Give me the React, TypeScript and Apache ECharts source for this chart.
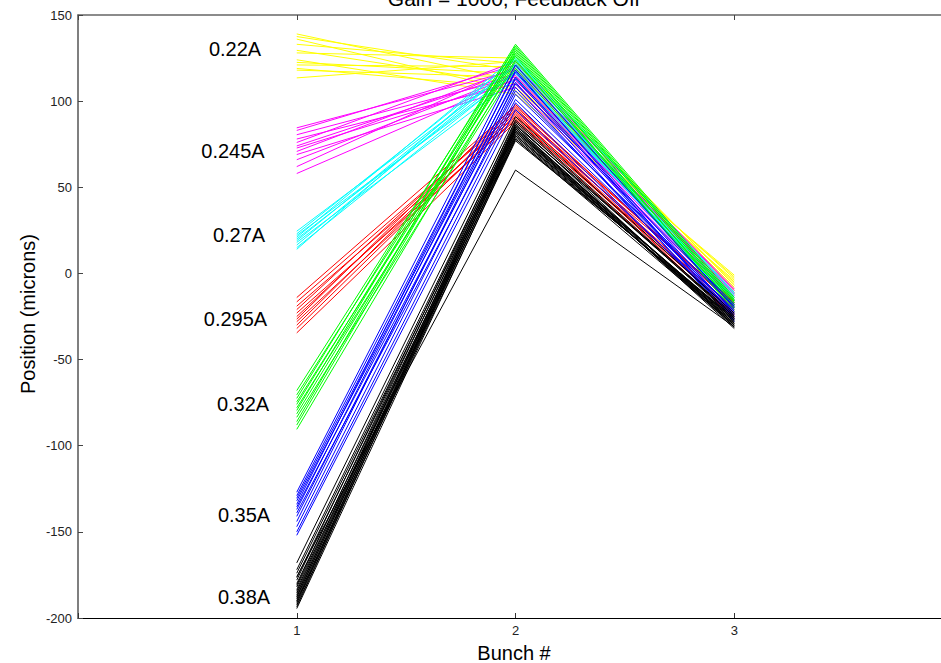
import React, { useEffect, useRef } from "react";
import * as echarts from "echarts";

// Bunch numbers on the x axis
const bunches = [1, 2, 3];
const xTicks = [1, 2, 3];
const yTicks = [-200, -150, -100, -50, 0, 50, 100, 150];

// Current labels and their colours
const currents = ["0.22A", "0.245A", "0.27A", "0.295A", "0.32A", "0.35A", "0.38A"];
const colors = ["#ffff00", "#ff00ff", "#00ffff", "#ff0000", "#00ff00", "#0000ff", "#000000"];

// 0.22A (yellow): position at bunch 1, 2, 3 for each shot
const y22b1 = [139, 137.5, 136, 133, 129.5, 128, 124, 122.5, 121, 119, 118, 113.5];
const y22b2 = [112, 118, 106, 122, 110, 125, 104, 116, 120, 108, 114, 123];
const y22b3 = [-3, -8, -1, -10, -5, -12, -4, -9, -6, -2, -11, -7];

// 0.245A (magenta)
const y245b1 = [84.5, 83, 80.5, 78, 76, 74, 72.8, 70.8, 69, 66, 62, 58];
const y245b2 = [118, 121, 114, 110, 123, 116, 112, 119, 108, 115, 120, 113];
const y245b3 = [-12, -9, -15, -17, -10, -13, -16, -11, -18, -14, -12, -15];

// 0.27A (cyan)
const y27b1 = [24.5, 23, 22, 21, 20, 19, 18, 16.5, 15, 14];
const y27b2 = [120, 124, 116, 126, 118, 122, 113, 121, 117, 125];
const y27b3 = [-14, -11, -17, -12, -19, -15, -13, -18, -16, -20];

// 0.295A (red)
const y295b1 = [-14, -16.5, -19, -21, -23, -25, -26.5, -28, -30, -32, -34.5];
const y295b2 = [97, 94, 91, 96, 89, 93, 98, 90, 95, 92, 88];
const y295b3 = [-18, -21, -16, -24, -20, -26, -19, -23, -17, -22, -25];

// 0.32A (green)
const y32b1 = [-68, -70.5, -72.5, -74.5, -76, -78, -79.5, -81.5, -83.5, -86, -88, -90.5];
const y32b2 = [131, 127, 133, 124, 129, 121, 132, 126, 119, 130, 128, 123];
const y32b3 = [-16, -19, -14, -21, -17, -20, -15, -22, -18, -16, -19, -17];

// 0.35A (blue)
const y35b1 = [-127, -129, -130.5, -132, -134, -135.5, -137, -139, -141, -144, -147, -150, -152];
const y35b2 = [121, 117, 113, 110, 118, 106, 114, 101, 108, 111, 104, 99, 95];
const y35b3 = [-20, -23, -25, -18, -27, -22, -24, -21, -26, -28, -19, -25, -23];

// 0.38A (black)
const y38b1 = [-168, -172, -174, -176.5, -178, -180, -181, -182, -183.5, -184.5, -185.5, -186.5, -187.5, -188, -189, -190, -190.5, -191.5, -192.5, -193.5, -194.5, -176];
const y38b2 = [91, 88, 86, 84, 89, 82, 87, 80, 85, 83, 78, 86, 81, 84, 79, 82, 77, 85, 80, 83, 78, 60];
const y38b3 = [-23, -26, -24, -28, -25, -27, -30, -26, -29, -31, -27, -25, -29, -32, -28, -30, -26, -31, -29, -27, -30, -31];

const groups = [
  [y22b1, y22b2, y22b3],
  [y245b1, y245b2, y245b3],
  [y27b1, y27b2, y27b3],
  [y295b1, y295b2, y295b3],
  [y32b1, y32b2, y32b3],
  [y35b1, y35b2, y35b3],
  [y38b1, y38b2, y38b3],
];

const FONT = "'Liberation Sans', Arial, Helvetica, sans-serif";

export default function App() {
  const ref = useRef<HTMLDivElement>(null);

  useEffect(() => {
    if (!ref.current) return;
    const chart = echarts.init(ref.current, null, { renderer: "svg" });

    const series: any[] = [];
    groups.forEach((g, gi) => {
      const [b1, b2, b3] = g;
      for (let i = 0; i < b1.length; i++) {
        const vals = [b1[i], b2[i], b3[i]];
        series.push({
          type: "line",
          xAxisIndex: 0,
          yAxisIndex: 0,
          data: bunches.map((b, k) => [b, vals[k]]),
          symbol: "none",
          silent: true,
          lineStyle: { color: colors[gi], width: 1 },
          z: 2,
        });
      }
    });

    const labelPos = [
      [235, 49],
      [233, 150.5],
      [239, 235],
      [235.5, 319],
      [243, 404],
      [244, 515],
      [244, 597],
    ];

    const option: any = {
      animation: false,
      backgroundColor: "#ffffff",
      grid: { left: 78, top: 15, width: 875, height: 603, containLabel: false },
      xAxis: [
        {
          type: "value",
          min: 0,
          max: 4,
          interval: 1,
          position: "bottom",
          axisLine: { show: true, onZero: false, lineStyle: { color: "#000", width: 1 } },
          axisTick: { show: true, inside: true, length: 5, lineStyle: { color: "#333" } },
          axisLabel: {
            show: true,
            margin: 6,
            color: "#222",
            fontFamily: FONT,
            fontSize: 13,
            formatter: (v: number) => (xTicks.includes(v) ? String(v) : ""),
          },
          splitLine: { show: false },
        },
        {
          type: "value",
          min: 0,
          max: 4,
          interval: 1,
          position: "top",
          axisLine: { show: true, onZero: false, lineStyle: { color: "#666", width: 1.5 } },
          axisTick: { show: true, inside: true, length: 5, lineStyle: { color: "#444" } },
          axisLabel: { show: false },
          splitLine: { show: false },
        },
      ],
      yAxis: {
        type: "value",
        min: yTicks[0],
        max: yTicks[yTicks.length - 1],
        interval: 50,
        axisLine: { show: true, onZero: false, lineStyle: { color: "#555", width: 1.5 } },
        axisTick: { show: true, inside: true, length: 5, lineStyle: { color: "#444" } },
        axisLabel: { margin: 6, color: "#222", fontFamily: FONT, fontSize: 13 },
        splitLine: { show: false },
      },
      series,
      graphic: [
        {
          type: "text",
          x: 514,
          y: -2,
          silent: true,
          style: {
            text: "Gain = 1000, Feedback Off",
            fill: "#000",
            font: `21px ${FONT}`,
            align: "center",
            verticalAlign: "middle",
          },
        },
        {
          type: "text",
          x: 514,
          y: 653,
          silent: true,
          style: {
            text: "Bunch #",
            fill: "#000",
            font: `20px ${FONT}`,
            align: "center",
            verticalAlign: "middle",
          },
        },
        {
          type: "text",
          x: 28,
          y: 314,
          rotation: Math.PI / 2,
          silent: true,
          style: {
            text: "Position (microns)",
            fill: "#000",
            font: `20px ${FONT}`,
            align: "center",
            verticalAlign: "middle",
          },
        },
        ...currents.map((c, i) => ({
          type: "text",
          x: labelPos[i][0],
          y: labelPos[i][1],
          silent: true,
          z: 10,
          style: {
            text: c,
            fill: "#000",
            font: `20px ${FONT}`,
            align: "center",
            verticalAlign: "middle",
          },
        })),
      ],
    };

    chart.setOption(option);
    return () => chart.dispose();
  }, []);

  return (
    <div
      style={{
        position: "absolute",
        left: 0,
        top: 0,
        width: 941,
        height: 663,
        overflow: "hidden",
        background: "#fff",
      }}
    >
      <div ref={ref} style={{ position: "absolute", left: 0, top: 0, width: 980, height: 663 }} />
    </div>
  );
}
